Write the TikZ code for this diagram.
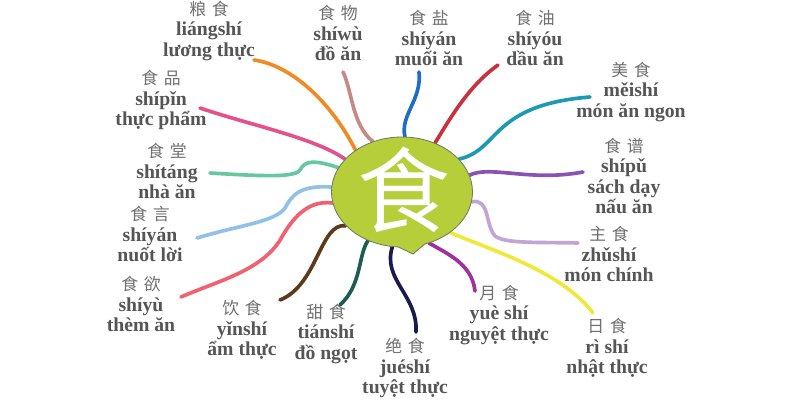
\documentclass[tikz,border=0pt]{standalone}
\usepackage{fontspec}
\setmainfont{Liberation Serif}
\newfontfamily\cjk{Noto Sans CJK SC}
\usetikzlibrary{shapes.callouts,backgrounds}

\definecolor{gristexte}{HTML}{555555}
\definecolor{grishanzi}{HTML}{707070}
\definecolor{vertbulle}{HTML}{B6CE3A}
\definecolor{grisbord}{HTML}{6F7A66}
\definecolor{corange}{HTML}{F08A24}
\definecolor{cvieuxrose}{HTML}{C58A85}
\definecolor{cbleu}{HTML}{1E6FC2}
\definecolor{crouge}{HTML}{C9313F}
\definecolor{cturquoise}{HTML}{1D9AB3}
\definecolor{cviolet}{HTML}{8A52B5}
\definecolor{clavande}{HTML}{C4A3D6}
\definecolor{cjaune}{HTML}{EFE83A}
\definecolor{cmagenta}{HTML}{A0309D}
\definecolor{cmarine}{HTML}{1B1A4F}
\definecolor{csapin}{HTML}{1F5A55}
\definecolor{cbrun}{HTML}{5C3A1A}
\definecolor{csaumon}{HTML}{F0606E}
\definecolor{cciel}{HTML}{92C1E8}
\definecolor{cmenthe}{HTML}{66C8A2}
\definecolor{crose}{HTML}{E4528C}

\newcommand{\hanzi}[2]{{\cjk\fontsize{12}{14.5}\selectfont\mdseries\color{grishanzi}#1\hspace{4pt}#2}}

\begin{document}
\begin{tikzpicture}[x=0.25mm, y=-0.25mm]
			\tikzset{etiquette/.style={align=center, font=\fontsize{14}{14.5}\selectfont\bfseries, text=gristexte, inner sep=0pt}, branche/.style={line width=2.6pt, line cap=round}};

			\useasboundingbox (0,0) rectangle (800,400);

			\node[ellipse callout, callout absolute pointer={(413,254)}, callout pointer arc=22, fill=vertbulle, draw=grisbord, line width=0.6pt, minimum width=35.25mm, minimum height=27.5mm, inner sep=0pt] (bulle) at (402,192) {};
			\node[text=white, font=\cjk\fontsize{66}{66}\selectfont] (shi) at (404,190) {食};

			\node[etiquette] (liangshi) at (209, 31) {\hanzi{粮}{食}\\liángshí\\lương thực};
			\node[etiquette] (shiwu)    at (338, 33) {\hanzi{食}{物}\\shíwù\\đồ ăn};
			\node[etiquette] (shiyan)   at (429, 38) {\hanzi{食}{盐}\\shíyán\\muối ăn};
			\node[etiquette] (shiyou)   at (535, 38) {\hanzi{食}{油}\\shíyóu\\dầu ăn};
			\node[etiquette] (meishi)   at (631, 92) {\hanzi{美}{食}\\měishí\\món ăn ngon};
			\node[etiquette] (shipu)    at (624,176) {\hanzi{食}{谱}\\shípǔ\\sách dạy\\nấu ăn};
			\node[etiquette] (zhushi)   at (609,254) {\hanzi{主}{食}\\zhǔshí\\món chính};
			\node[etiquette] (rishi)    at (607,348) {\hanzi{日}{食}\\rì shí\\nhật thực};
			\node[etiquette] (yueshi)   at (499,315) {\hanzi{月}{食}\\yuè shí\\nguyệt thực};
			\node[etiquette] (jueshi)   at (405,368) {\hanzi{绝}{食}\\juéshí\\tuyệt thực};
			\node[etiquette] (tianshi)  at (326,334) {\hanzi{甜}{食}\\tiánshí\\đồ ngọt};
			\node[etiquette] (yinshi)   at (242,330) {\hanzi{饮}{食}\\yǐnshí\\ẩm thực};
			\node[etiquette] (shiyu)    at (141,304) {\hanzi{食}{欲}\\shíyù\\thèm ăn};
			\node[etiquette] (shiyanb)  at (150,234) {\hanzi{食}{言}\\shíyán\\nuốt lời};
			\node[etiquette] (shitang)  at (167,171) {\hanzi{食}{堂}\\shítáng\\nhà ăn};
			\node[etiquette] (shipin)   at (161,100) {\hanzi{食}{品}\\shípǐn\\thực phẩm};

			\coordinate (liangshi-fin) at (254, 60);
			\coordinate (shiwu-fin)    at (343, 72);
			\coordinate (shiyan-fin)   at (419, 72);
			\coordinate (shiyou-fin)   at (498, 65);
			\coordinate (meishi-fin)   at (590, 97);
			\coordinate (shipu-fin)    at (583,172);
			\coordinate (zhushi-fin)   at (578,243);
			\coordinate (rishi-fin)    at (593,313);
			\coordinate (yueshi-fin)   at (475,291);
			\coordinate (jueshi-fin)   at (416,332);
			\coordinate (tianshi-fin)  at (340,305);
			\coordinate (yinshi-fin)   at (280,300);
			\coordinate (shiyu-fin)    at (181,297);
			\coordinate (shiyanb-fin)  at (197,238);
			\coordinate (shitang-fin)  at (210,173);
			\coordinate (shipin-fin)   at (200,108);

			\begin{scope}[on background layer]
			\draw[branche, corange]    (bulle.138) .. controls (330,100) and (290, 65) .. (liangshi-fin);
			\draw[branche, cvieuxrose] (bulle.120) .. controls (352,125) and (352, 90) .. (shiwu-fin);
			\draw[branche, cbleu]      (bulle.87)  .. controls (400,115) and (422,100) .. (shiyan-fin);
			\draw[branche, crouge]     (bulle.56)  .. controls (452,115) and (470, 85) .. (shiyou-fin);
			\draw[branche, cturquoise] (bulle.30)  .. controls (500,150) and (490,105) .. (meishi-fin);
			\draw[branche, cviolet]    (bulle.14)  .. controls (490,165) and (530,182) .. (shipu-fin);
			\draw[branche, clavande]   (bulle.-8)  .. controls (490,198) and (485,225) .. (495,236) .. controls (505,244) and (540,242) .. (zhushi-fin);
			\draw[branche, cjaune]     (bulle.-40) .. controls (490,250) and (560,270) .. (rishi-fin);
			\draw[branche, cmagenta]   (bulle.-62) .. controls (450,255) and (472,265) .. (yueshi-fin);
			\draw[branche, cmarine]    (bulle.-100) .. controls (382,280) and (418,295) .. (jueshi-fin);
			\draw[branche, csapin]     (bulle.-125) .. controls (358,255) and (362,285) .. (tianshi-fin);
			\draw[branche, cbrun]      (bulle.211) .. controls (320,222) and (318,285) .. (yinshi-fin);
			\draw[branche, csaumon]    (bulle.189) .. controls (310,200) and (295,215) .. (283,235) .. controls (265,270) and (220,280) .. (shiyu-fin);
			\draw[branche, cciel]      (bulle.176) .. controls (300,185) and (292,195) .. (285,208) .. controls (275,222) and (240,225) .. (shiyanb-fin);
			\draw[branche, cmenthe]    (bulle.159) .. controls (315,160) and (305,160) .. (300,170) .. controls (295,178) and (260,176) .. (shitang-fin);
			\draw[branche, crose]      (bulle.150) .. controls (315,138) and (250,125) .. (shipin-fin);
			\end{scope}

		\end{tikzpicture}
\end{document}
